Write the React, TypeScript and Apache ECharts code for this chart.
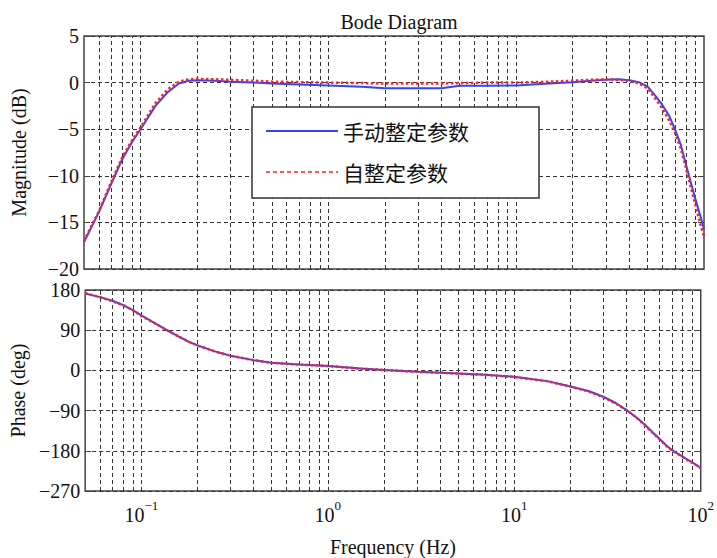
import React, { useEffect, useRef } from "react";
import * as echarts from "echarts";

// ---- data ----
const freqHz = [0.05, 0.06, 0.07, 0.08, 0.09, 0.1, 0.12, 0.14, 0.16, 0.18, 0.2, 0.25, 0.3, 0.4, 0.5, 0.7, 1, 1.5, 2, 3, 4, 5, 7, 10, 15, 20, 25, 30, 35, 40, 45, 50, 55, 60, 65, 70, 75, 80, 85, 90, 95, 100];
const magManual = [-17.1, -13.9, -10.8, -8.2, -6.4, -5.0, -2.5, -1.0, -0.1, 0.2, 0.25, 0.2, 0.1, 0.0, -0.1, -0.2, -0.3, -0.45, -0.6, -0.6, -0.6, -0.35, -0.35, -0.3, -0.1, 0.05, 0.2, 0.3, 0.35, 0.25, 0.05, -0.4, -1.4, -2.4, -3.5, -5.0, -6.6, -8.7, -10.7, -12.5, -14.1, -15.7];
const magAuto = [-17.0, -13.8, -10.6, -8.0, -6.2, -4.8, -2.2, -0.7, 0.1, 0.35, 0.4, 0.35, 0.3, 0.2, 0.1, 0.05, 0.0, -0.05, -0.1, -0.1, -0.1, -0.05, 0.0, 0.0, 0.1, 0.2, 0.3, 0.35, 0.3, 0.2, -0.1, -0.6, -1.7, -2.8, -4.0, -5.4, -7.0, -9.1, -11.2, -13.1, -15.0, -16.5];
const phaseManual = [172, 164, 156, 146, 135, 123, 104, 88, 75, 64, 56, 42, 33, 23, 17, 13, 10, 4, 1, -3, -5, -7, -10, -14, -24, -36, -46, -59, -73, -89, -105, -121, -138, -153, -167, -178, -186, -193, -200, -206, -212, -218];
const phaseAuto = [173, 164, 155, 146, 135, 122, 104, 88, 75, 64, 56, 42, 33, 23, 17, 13, 10, 4, 1, -3, -5, -7, -10, -15, -24, -36, -47, -60, -74, -89, -105, -122, -139, -154, -168, -179, -187, -194, -201, -207, -213, -219];
const seriesNames = ["手动整定参数", "自整定参数"];
const gridFreqs = [0.06, 0.07, 0.08, 0.09, 0.1, 0.2, 0.3, 0.4, 0.5, 0.6, 0.7, 0.8, 0.9, 1, 2, 3, 4, 5, 6, 7, 8, 9, 10, 20, 30, 40, 50, 60, 70, 80, 90];
const freqRange = [0.05, 100];
const magRange = [-20, 5];
const magStep = 5;
const phaseRange = [-270, 180];
const phaseStep = 90;

const SERIF = "Liberation Serif";
const CJK = "Noto Sans CJK SC";
const GRID_STYLE = { type: [4, 3] as any, color: "#333", width: 1 };

const minus = (v: number) => (v < 0 ? "\u2212" + Math.abs(v) : String(v));

export default function App() {
  const ref = useRef<HTMLDivElement>(null);
  useEffect(() => {
    document.body.style.margin = "0";
    const chart = echarts.init(ref.current!, null, { renderer: "svg" });
    const zip = (ys: number[]) => freqHz.map((f, i) => [f, ys[i]]);
    const markGrid = {
      silent: true,
      symbol: ["none", "none"],
      label: { show: false },
      lineStyle: GRID_STYLE,
      emphasis: { disabled: true },
      z: 1,
      data: gridFreqs.map((f) => ({ xAxis: f })),
    };
    const xBase = (gi: number, labels: boolean) => ({
      type: "log",
      logBase: 10,
      gridIndex: gi,
      min: freqRange[0],
      max: freqRange[1],
      axisLine: { show: false },
      axisTick: { show: false },
      splitLine: { show: false },
      axisLabel: labels
        ? {
            show: true,
            margin: 8,
            formatter: (v: number) => {
              const e = Math.log10(v);
              const r = Math.round(e);
              if (Math.abs(e - r) > 1e-6) return "";
              return `{b|10}{s|${minus(r)}}`;
            },
            rich: {
              b: { fontSize: 20, fontFamily: SERIF, color: "#111", verticalAlign: "bottom", lineHeight: 26 },
              s: { fontSize: 13, fontFamily: SERIF, color: "#111", verticalAlign: "top", lineHeight: 14 },
            },
          }
        : { show: false },
      ...(labels
        ? {
            name: "Frequency (Hz)",
            nameLocation: "middle",
            nameGap: 46,
            nameTextStyle: { fontSize: 20, fontFamily: SERIF, color: "#111" },
          }
        : {}),
    });
    const yBase = (gi: number, range: number[], step: number, name: string) => ({
      type: "value",
      gridIndex: gi,
      min: range[0],
      max: range[1],
      interval: step,
      name,
      nameLocation: "middle",
      nameGap: 55,
      nameTextStyle: { fontSize: 20, fontFamily: SERIF, color: "#111" },
      axisLine: { show: false },
      axisTick: { show: true, inside: true, length: 6, lineStyle: { color: "#444" } },
      axisLabel: { margin: 5, fontSize: 20, fontFamily: SERIF, color: "#111", formatter: minus },
      splitLine: { show: true, lineStyle: GRID_STYLE },
    });
    const yMirror = (gi: number, range: number[], step: number) => ({
      type: "value",
      gridIndex: gi,
      position: "right",
      min: range[0],
      max: range[1],
      interval: step,
      axisLine: { show: false },
      axisTick: { show: true, inside: true, length: 6, lineStyle: { color: "#444" } },
      axisLabel: { show: false },
      splitLine: { show: false },
    });
    const blue = { color: "#3344ff", width: 2 };
    const red = { color: "#ff2222", width: 2.5, type: [2.5, 2.5] as any };
    chart.setOption({
      animation: false,
      title: {
        text: "Bode Diagram",
        left: 394,
        top: 7,
        textAlign: "center",
        textStyle: { fontSize: 20, fontWeight: "normal", fontFamily: SERIF, color: "#111" },
      },
      grid: [
        { left: 84, top: 36, width: 620, height: 233, show: true, borderColor: "#444", borderWidth: 1.5, backgroundColor: "transparent" },
        { left: 84, top: 290, width: 620, height: 205, show: true, borderColor: "#444", borderWidth: 1.5, backgroundColor: "transparent" },
      ],
      xAxis: [xBase(0, false), xBase(1, true)],
      yAxis: [
        yBase(0, magRange, magStep, "Magnitude (dB)"),
        yBase(1, phaseRange, phaseStep, "Phase (deg)"),
        yMirror(0, magRange, magStep),
        yMirror(1, phaseRange, phaseStep),
      ],
      legend: {
        left: 252,
        top: 107,
        orient: "vertical",
        backgroundColor: "#fff",
        borderColor: "#333",
        borderWidth: 1.5,
        padding: [12, 70, 14, 13],
        itemWidth: 72,
        itemHeight: 14,
        itemGap: 17,
        itemStyle: { opacity: 0 },
        textStyle: { fontSize: 21, fontFamily: CJK, color: "#111", lineHeight: 24 },
        data: [
          { name: seriesNames[0], lineStyle: { color: "#3344ff", width: 2 } },
          { name: seriesNames[1], lineStyle: { type: [4, 3], color: "#ff2222", width: 1.5 } },
        ],
      },
      series: [
        { name: seriesNames[0], type: "line", xAxisIndex: 0, yAxisIndex: 0, data: zip(magManual), symbol: "none", lineStyle: blue, itemStyle: { color: blue.color }, markLine: markGrid, z: 3 },
        { name: seriesNames[1], type: "line", xAxisIndex: 0, yAxisIndex: 0, data: zip(magAuto), symbol: "none", lineStyle: red, itemStyle: { color: red.color }, z: 4 },
        { name: seriesNames[0], type: "line", xAxisIndex: 1, yAxisIndex: 1, data: zip(phaseManual), symbol: "none", lineStyle: blue, itemStyle: { color: blue.color }, markLine: markGrid, z: 3 },
        { name: seriesNames[1], type: "line", xAxisIndex: 1, yAxisIndex: 1, data: zip(phaseAuto), symbol: "none", lineStyle: red, itemStyle: { color: red.color }, z: 4 },
      ],
    });
    return () => chart.dispose();
  }, []);
  return <div ref={ref} style={{ width: 717, height: 558 }} />;
}
